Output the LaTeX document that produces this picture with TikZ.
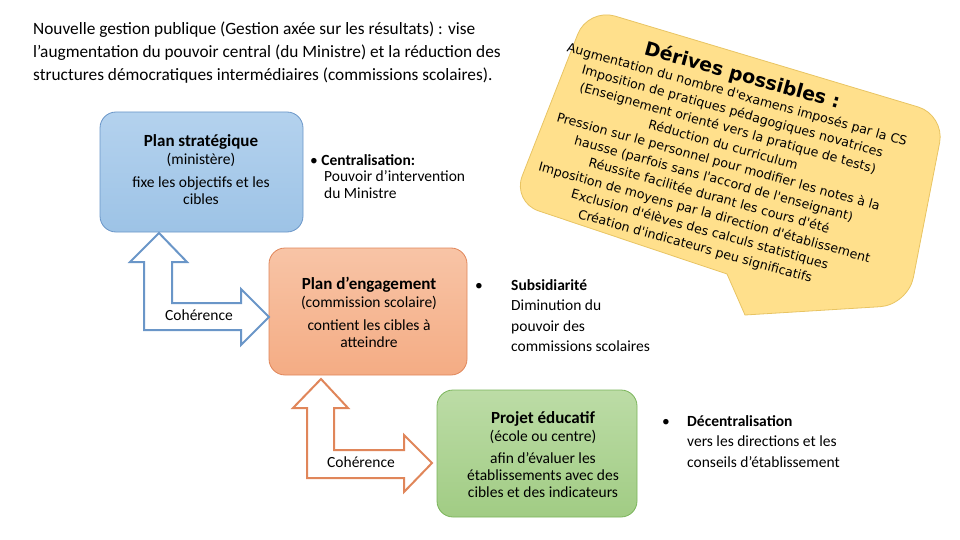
\documentclass[tikz,border=0pt]{standalone}
\usepackage{fontspec}
\setmainfont{Carlito}
\newfontfamily\yfont{DejaVu Sans}
\usetikzlibrary{positioning}
\definecolor{bluef}{HTML}{9DC3E6}
\definecolor{bluet}{HTML}{B4D2EE}
\definecolor{blued}{HTML}{6A96C8}
\definecolor{orf}{HTML}{F4AC84}
\definecolor{ort}{HTML}{F8C4A6}
\definecolor{ord}{HTML}{E0865A}
\definecolor{grf}{HTML}{A1CC84}
\definecolor{grt}{HTML}{BCDCA6}
\definecolor{grd}{HTML}{7AB45A}
\definecolor{yelf}{HTML}{FFE08C}
\definecolor{yeld}{HTML}{E8C463}
\begin{document}
\begin{tikzpicture}[x=1pt,y=-1pt,
  txt/.style={inner sep=0pt,font=\fontsize{15.5}{17}\selectfont},
  boxs/.style={draw,rounded corners=16pt,line width=0.8pt},
  arr/.style={line width=2pt,fill=white,line join=miter}]
\useasboundingbox (0,0) rectangle (960,540);
% title
\node[txt,anchor=north west,align=left,font=\fontsize{17.3}{23}\selectfont] (title) at (33,22)
 {Nouvelle gestion publique (Gestion axée sur les résultats) : vise\\
  l’augmentation du pouvoir central (du Ministre) et la réduction des\\
  structures démocratiques intermédiaires (commissions scolaires).};
% yellow callout
\draw[fill=yelf,draw=yeld,line width=0.8pt,rounded corners=28pt]
 (588,8) -- (945,115) -- (908,305) [sharp corners] -- (745,315) -- (727,274) [rounded corners=28pt] -- (512,202) -- cycle;
\begin{scope}[y=1pt]
\node[rotate=-15.5,align=center,inner sep=0pt,font=\yfont\fontsize{12.6}{17.5}\selectfont] (der) at (719,-160)
 {{\fontsize{19}{22}\selectfont\bfseries Dérives possibles :}\\
 Augmentation du nombre d'examens imposés par la CS\\
 Imposition de pratiques pédagogiques novatrices\\
 (Enseignement orienté vers la pratique de tests)\\
 Réduction du curriculum\\
 Pression sur le personnel pour modifier les notes à la\\
 hausse (parfois sans l'accord de l'enseignant)\\
 Réussite facilitée durant les cours d'été\\
 Imposition de moyens par la direction d'établissement\\
 Exclusion d'élèves des calculs statistiques\\
 Création d'indicateurs peu significatifs};
\end{scope}
% boxes
\draw[boxs,draw=blued,top color=bluet,bottom color=bluef] (100,112) rectangle (303,232);
\draw[boxs,draw=ord,top color=ort,bottom color=orf] (269,248) rectangle (467,375);
\draw[boxs,draw=grd,top color=grt,bottom color=grf] (437,390) rectangle (637,517);
\node[txt,align=center] (ps) at (201,170) {{\fontsize{17}{19}\selectfont\bfseries Plan stratégique}\\[1pt](ministère)\\[6pt]fixe les objectifs et les\\cibles};
\node[txt,align=center] (pe) at (369,312) {{\fontsize{17}{19}\selectfont\bfseries Plan d'engagement}\\[1pt](commission scolaire)\\[6pt]contient les cibles à\\atteindre};
\node[txt,align=center] (pj) at (543,455) {{\fontsize{17}{19}\selectfont\bfseries Projet éducatif}\\[1pt](école ou centre)\\[5pt]afin d'évaluer les\\établissements avec des\\cibles et des indicateurs};
% side texts
\node[txt,anchor=west] (b1) at (310,160) {\textbullet\ \textbf{Centralisation:}};
\node[txt,anchor=north west,align=left,font=\fontsize{15.5}{17}\selectfont] (c1) at (324,170) {Pouvoir d'intervention\\du Ministre};
\node[txt,anchor=west] (b2) at (475,287) {\textbullet};
\node[txt,anchor=north west,align=left,font=\fontsize{15.5}{20.5}\selectfont] (c2) at (511,279) {\textbf{Subsidiarité}\\Diminution du\\pouvoir des\\commissions scolaires};
\node[txt,anchor=west] (b3) at (662,423) {\textbullet};
\node[txt,anchor=north west,align=left,font=\fontsize{15.5}{20.5}\selectfont] (c3) at (687,415) {\textbf{Décentralisation}\\vers les directions et les\\conseils d’établissement};
% bent arrows
\draw[arr,draw=blued] (159,233) -- (187,262) -- (172,262) -- (172,303) -- (241,303) -- (241,289) -- (269,317) -- (241,345) -- (241,330) -- (144,330) -- (144,262) -- (130,262) -- cycle;
\draw[arr,draw=ord] (321,379) -- (348,408) -- (334,408) -- (334,450) -- (404,450) -- (404,435) -- (432,463) -- (404,492) -- (404,478) -- (307,478) -- (307,408) -- (293,408) -- cycle;
\node[txt] (co1) at (199,315) {Cohérence};
\node[txt] (co2) at (361,462) {Cohérence};
\end{tikzpicture}
\end{document}
